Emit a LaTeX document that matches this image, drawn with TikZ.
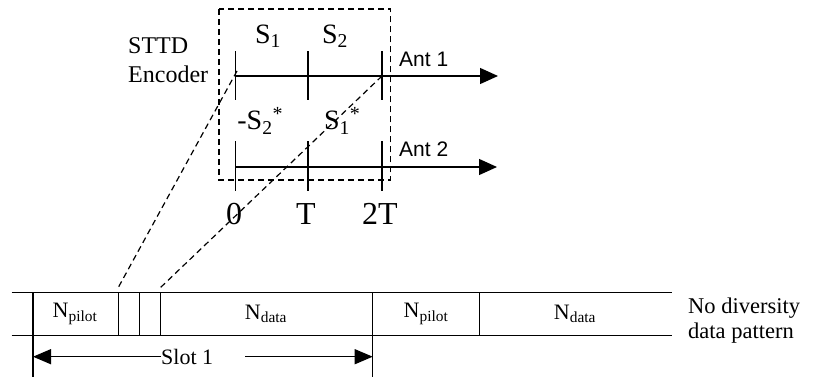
\documentclass[tikz,border=0pt]{standalone}
\usepackage{fontspec}
\setmainfont{Liberation Serif}
\newfontfamily\arialf{Liberation Sans}
\usetikzlibrary{arrows.meta}
\tikzset{
  ln/.style={line width=1.3pt},
  tick/.style={line width=1.3pt},
  dsh/.style={line width=1.3pt, dash pattern=on 6pt off 4pt},
  bigarrow/.style={line width=1.3pt, -{Triangle[length=18pt,width=16pt]}},
  txt/.style={inner sep=0pt, font=\fontsize{28}{32}\selectfont},
  big/.style={inner sep=0pt, font=\fontsize{32}{36}\selectfont},
  sml/.style={inner sep=0pt, font=\fontsize{22}{25}\selectfont},
  sans/.style={inner sep=0pt, font=\arialf\fontsize{21}{24}\selectfont},
}
\begin{document}
\begin{tikzpicture}[x=1pt,y=-1pt]
\useasboundingbox (0,0) rectangle (816,379);
% encoder box
\draw[dsh] (219,9) rectangle (390.5,180);
\node[inner sep=0pt, font=\fontsize{24}{29}\selectfont, align=left, anchor=north west] (enc) at (128,37) {STTD\\Encoder};
% Ant 1
\coordinate (a0) at (235.5,76);
\coordinate (a1) at (308,76);
\coordinate (a2) at (382,76);
\coordinate (a3) at (498,76);
\draw[bigarrow] (a0) -- (a3);
\foreach \p in {a0,a1,a2} \draw[tick] ([yshift=-24pt]\p) -- ([yshift=25pt]\p);
\node[txt] (s1) at (268,36) {S\textsubscript{1}};
\node[txt] (s2) at (335,36) {S\textsubscript{2}};
\node[sans, anchor=south west] (ant1) at (399,67) {Ant 1};
% Ant 2
\coordinate (b0) at (235.5,167);
\coordinate (b1) at (308,167);
\coordinate (b2) at (382,167);
\coordinate (b3) at (497,167);
\draw[bigarrow] (b0) -- (b3);
\foreach \p in {b0,b1,b2} \draw[tick] ([yshift=-24pt]\p) -- ([yshift=26pt]\p);
\node[txt] (ms2) at (260,121) {-S\textsubscript{2}\raisebox{9pt}{\fontsize{20}{22}\selectfont *}};
\node[txt] (s1s) at (342,121) {S\textsubscript{1}\raisebox{9pt}{\fontsize{20}{22}\selectfont *}};
\node[sans, anchor=south west] (ant2) at (399,157) {Ant 2};
% time labels
\node[big, anchor=base] (t0) at (234,225) {0};
\node[big, anchor=base] (t1) at (306,225) {T};
\node[big, anchor=base] (t2) at (380,225) {2T};
% frame
\coordinate (fl) at (11.5,292.7);
\coordinate (fr) at (671.5,292.7);
\draw[ln] (fl) -- (fr);
\draw[line width=1.1pt] (11.5,335.7) -- (671.5,335.7);
\draw[ln] (33,292.7) -- (33,377);
\draw[ln] (118.3,292.7) -- (118.3,335.7);
\draw[ln] (139.3,292.7) -- (139.3,335.7);
\draw[ln] (160.7,292.7) -- (160.7,335.7);
\draw[ln] (372.7,292.7) -- (372.7,377);
\draw[ln] (479.3,292.7) -- (479.3,335.7);
\node[sml] (np1) at (75,314) {N\textsubscript{pilot}};
\node[sml] (nd1) at (266,314) {N\textsubscript{data}};
\node[sml] (np2) at (426,314) {N\textsubscript{pilot}};
\node[sml] (nd2) at (575,314) {N\textsubscript{data}};
\node[inner sep=0pt, font=\fontsize{22.5}{25}\selectfont, align=left, anchor=north west] (nodiv) at (688,297.5) {No diversity\\data pattern};
% slot arrow
\node[sml, anchor=west] (slot) at (161,356.7) {Slot 1};
\coordinate (sl) at (33,356.7);
\coordinate (sr) at (372.7,356.7);
\coordinate (sg) at (245,356.7);
\draw[ln, -{Triangle[length=18pt,width=15pt]}] (slot.west) -- (sl);
\draw[ln, -{Triangle[length=18pt,width=15pt]}] (sg) -- (sr);
% dashed zoom lines
\coordinate (z1) at (118,288);
\coordinate (z2) at (160,288);
\draw[dsh, line width=1.2pt] (237,71) -- (z1);
\draw[dsh, line width=1.2pt] (a2) -- (z2);
\end{tikzpicture}
\end{document}
